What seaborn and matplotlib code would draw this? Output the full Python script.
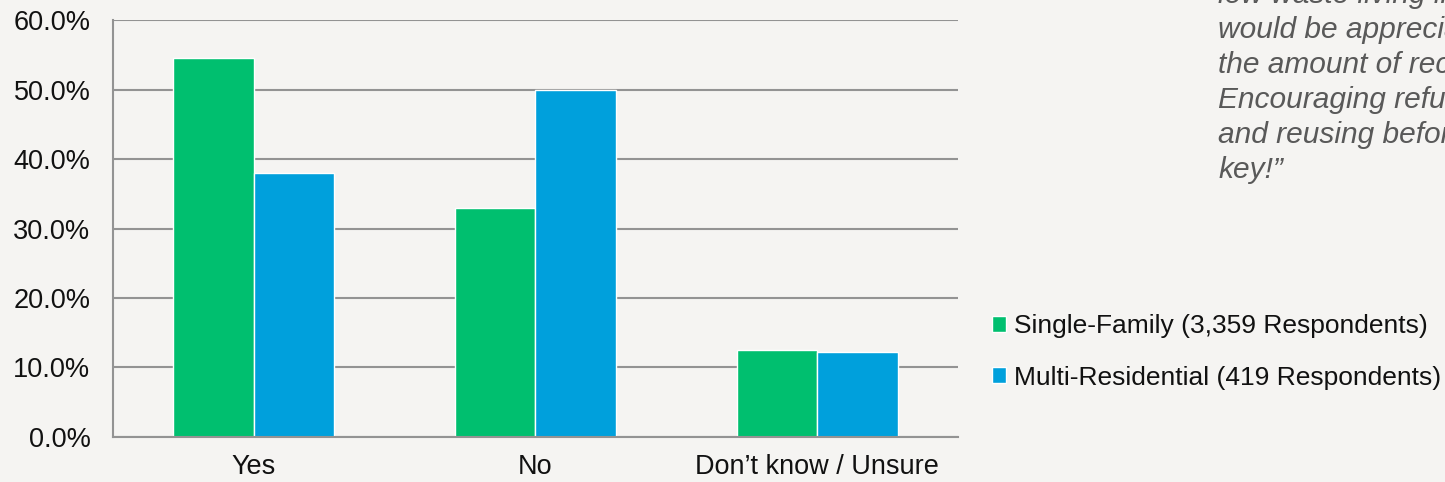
import pandas as pd
import numpy as np
import matplotlib.pyplot as plt
import seaborn as sns

# Survey answers
categories = ['Yes', 'No', 'Don\u2019t know / Unsure']
single_family = [54.5, 32.9, 12.5]
multi_residential = [38.0, 49.9, 12.2]
series_labels = ['Single-Family (3,359 Respondents)', 'Multi-Residential (419 Respondents)']
quote_lines = ['low waste living in', 'would be appreciated', 'the amount of recycling.',
               'Encouraging refusing', 'and reusing before', 'key!\u201d']

bg = '#F5F4F2'
colors = ['#00BF6F', '#00A0DC']

df = pd.DataFrame({
    'answer': categories * 2,
    'pct': single_family + multi_residential,
    'group': [series_labels[0]] * 3 + [series_labels[1]] * 3,
})

sns.set_theme(style='white')
plt.rcParams['font.family'] = ['Liberation Sans', 'DejaVu Sans']

fig = plt.figure(figsize=(14.45, 4.82), dpi=100, facecolor=bg)
ax = fig.add_axes([0.078, 0.0934, 0.585, 0.865], facecolor=bg)

sns.barplot(data=df, x='answer', y='pct', hue='group', order=categories,
            hue_order=series_labels, palette=colors, width=0.571,
            saturation=1, ax=ax, legend=True)

ax.set_ylim(0, 60)
ax.set_xlim(-0.5, 2.5)
ax.set_yticks(np.arange(0, 61, 10))
ax.set_yticklabels([f'{v:.1f}%' for v in np.arange(0, 61, 10)], fontsize=19.5)
ax.yaxis.grid(True, color='#939393', linewidth=1.5)
ax.set_axisbelow(True)
ax.set_xlabel('')
ax.set_ylabel('')
ax.tick_params(axis='x', which='major', length=0, labelsize=19.5, pad=12)
ax.set_xticks([-0.5, 0.5, 1.5, 2.5], minor=True)
ax.tick_params(axis='x', which='minor', length=7, width=1.5, color='#939393', direction='out')
ax.tick_params(axis='y', length=8, width=1.5, color='#939393', direction='out', pad=8)
for s in ['top', 'right']:
    ax.spines[s].set_visible(False)
for s in ['left', 'bottom']:
    ax.spines[s].set_color('#939393')
    ax.spines[s].set_linewidth(1.5)
for lab in ax.get_xticklabels() + ax.get_yticklabels():
    lab.set_color('#111111')

handles, labels = ax.get_legend_handles_labels()
ax.legend_.remove()
fig.legend(handles, labels, loc='center left', bbox_to_anchor=(0.670, 0.270),
           frameon=False, fontsize=19, handlelength=0.55, handleheight=0.55,
           handletextpad=0.3, labelspacing=1.05, labelcolor='#111111')

for i, line in enumerate(quote_lines):
    fig.text(0.843, 1.0 + 0.010 - i * 0.0727, line, fontsize=21.5, style='italic',
             color='#595959', va='center', ha='left')

fig.savefig('out.png', dpi=100, facecolor=bg)
